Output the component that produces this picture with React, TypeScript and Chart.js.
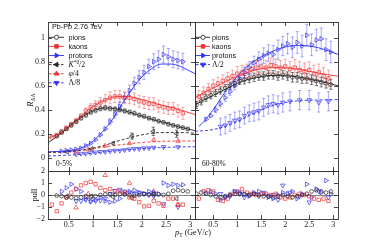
import React, { useEffect, useRef } from "react";
import { Chart, registerables } from "chart.js";
import { drawPoint } from "chart.js/helpers";

Chart.register(...registerables);

// ===================== DATA =====================
// ---- 0-5% (left panels) ----
const ptPionC = [0.25,0.35,0.45,0.55,0.65,0.75,0.85,0.95,1.05,1.15,1.25,1.35,1.45,1.55,1.65,1.75,1.85,1.95,2.05,2.15,2.25,2.35,2.45,2.55,2.65,2.75,2.85,2.95];
const raaPionC = [0.18,0.21,0.24,0.27,0.3,0.33,0.355,0.38,0.395,0.41,0.415,0.41,0.405,0.4,0.39,0.38,0.37,0.355,0.345,0.33,0.32,0.305,0.295,0.28,0.27,0.26,0.25,0.24];
const sysPionC = [0.015,0.016,0.018,0.02,0.021,0.022,0.023,0.024,0.025,0.025,0.025,0.025,0.025,0.024,0.024,0.023,0.023,0.022,0.022,0.021,0.021,0.02,0.02,0.02,0.019,0.019,0.019,0.018];
const pullPionC = [-0.05,-0.1,-0.2,-0.2,-0.25,-0.2,-0.1,-0.15,-0.1,0,0.05,0.05,0,0.1,0.05,0,-0.05,0,0.1,0.05,0.1,0.05,0,0.1,0.35,0.4,0.35,0.3];

const ptKaonC = [0.15,0.25,0.35,0.45,0.55,0.65,0.75,0.85,0.95,1.05,1.15,1.25,1.35,1.45,1.55,1.65,1.75,1.85,1.95,2.05,2.15,2.25,2.35,2.45,2.55,2.65,2.75,2.85];
const raaKaonC = [0.17,0.19,0.22,0.25,0.28,0.31,0.35,0.39,0.42,0.44,0.46,0.48,0.5,0.51,0.51,0.5,0.5,0.49,0.47,0.46,0.45,0.45,0.43,0.42,0.41,0.41,0.39,0.37];
const errKaonC = [0.01,0.01,0.012,0.014,0.016,0.018,0.02,0.025,0.03,0.035,0.04,0.045,0.05,0.05,0.05,0.05,0.05,0.05,0.05,0.05,0.05,0.05,0.05,0.05,0.05,0.05,0.05,0.05];
const pullKaonC = [-0.8,-1.35,-0.7,-0.2,0.2,0.5,0.8,1.0,1.1,0.9,0.6,0.4,0.5,0.3,0.3,0.2,-0.2,-0.3,-0.6,-0.95,-0.9,-0.5,-0.7,-0.9,-0.3,-0.3,-0.8,-0.8];

const ptProtonC = [0.35,0.45,0.55,0.65,0.75,0.85,0.95,1.05,1.15,1.25,1.35,1.45,1.55,1.65,1.75,1.85,1.95,2.05,2.15,2.25,2.35,2.45,2.55,2.65,2.75,2.85];
const raaProtonC = [0.055,0.06,0.065,0.07,0.08,0.1,0.12,0.15,0.19,0.24,0.3,0.36,0.43,0.5,0.56,0.62,0.67,0.71,0.76,0.8,0.82,0.86,0.84,0.82,0.81,0.8];
const errProtonC = [0.005,0.005,0.005,0.006,0.007,0.008,0.01,0.012,0.015,0.02,0.025,0.03,0.035,0.04,0.045,0.05,0.055,0.06,0.06,0.065,0.07,0.07,0.07,0.07,0.07,0.07];
const pullProtonC = [0.3,0.6,0.9,0.5,0.3,-0.3,-0.5,-0.4,-0.2,-0.5,-0.6,-0.5,-0.3,0.1,0.3,0.4,0.2,0.1,0.3,0.2,0.1,1.0,0.8,0.9,0.8,0.85];

const ptKstarC = [0.46,0.97,1.41,1.8,2.24,2.72];
const raaKstarC = [0.05,0.075,0.12,0.18,0.22,0.2];
const errKstarC = [0.006,0.01,0.015,0.025,0.035,0.03];
const pullKstarC = [-0.1,-0.1,-0.15,-0.25,0.05,-0.3];

const ptPhiC = [0.65,0.9,1.25,1.75,2.25,2.75];
const raaPhiC = [0.05,0.07,0.1,0.12,0.15,0.14];
const errPhiC = [0.005,0.007,0.01,0.012,0.015,0.015];
const pullPhiC = [-1.05,0.1,1.65,1.0,0.3,-0.85];

const ptLambdaC = [0.65,0.75,0.85,0.95,1.05,1.15,1.25,1.35,1.45,1.55,1.65,1.75,1.85,1.95,2.05,2.15,2.25,2.45,2.75];
const raaLambdaC = [0.03,0.035,0.035,0.04,0.045,0.05,0.05,0.055,0.06,0.06,0.065,0.07,0.075,0.075,0.08,0.08,0.085,0.09,0.09];
const errLambdaC = [0.004,0.004,0.004,0.004,0.005,0.005,0.005,0.005,0.005,0.005,0.006,0.006,0.006,0.006,0.006,0.007,0.007,0.008,0.008];
const pullLambdaC = [-0.5,-0.5,-0.4,-0.55,-0.5,-0.45,-0.3,0.1,0.35,0.45,0.3,0.2,0.1,0.2,0.1,0.0,-0.1,-0.75,-1.0];

// fits (0-5%)
const fitPtC = [0.07,0.3,0.5,0.7,0.9,1.1,1.3,1.5,1.7,1.9,2.1,2.3,2.5,2.7,2.9,3.1];
const fitPionC = [0.125,0.19,0.255,0.32,0.37,0.405,0.415,0.405,0.385,0.36,0.335,0.31,0.29,0.265,0.245,0.225];
const fitKaonC = [0.165,0.2,0.26,0.33,0.4,0.45,0.49,0.51,0.51,0.495,0.475,0.45,0.43,0.41,0.385,0.36];
const fitPtProtonC = [0.07,0.4,0.6,0.8,1.0,1.2,1.4,1.6,1.8,2.0,2.2,2.4,2.6,2.8,3.0,3.1];
const fitProtonC = [0.05,0.055,0.065,0.09,0.14,0.22,0.32,0.45,0.57,0.67,0.74,0.78,0.78,0.76,0.72,0.7];
const fitPtKstarC = [0.07,0.4,0.8,1.2,1.6,2.0,2.4,2.8,3.1];
const fitKstarC = [0.045,0.05,0.065,0.1,0.15,0.19,0.21,0.21,0.205];
const fitPtPhiC = [0.07,0.5,0.9,1.3,1.7,2.1,2.5,3.1];
const fitPhiC = [0.045,0.05,0.07,0.095,0.115,0.13,0.138,0.14];
const fitPtLambdaC = [0.07,0.4,0.8,1.2,1.6,2.0,2.4,2.8,3.1];
const fitLambdaC = [0.015,0.02,0.03,0.048,0.063,0.076,0.085,0.09,0.092];

// ---- 60-80% (right panels) ----
const ptPionP = [0.15,0.25,0.35,0.45,0.55,0.65,0.75,0.85,0.95,1.05,1.15,1.25,1.35,1.45,1.55,1.65,1.75,1.85,1.95,2.05,2.15,2.25,2.35,2.45,2.55,2.65,2.75,2.85,2.95];
const raaPionP = [0.44,0.47,0.5,0.52,0.54,0.56,0.58,0.6,0.62,0.64,0.65,0.66,0.67,0.68,0.68,0.69,0.69,0.68,0.69,0.68,0.67,0.67,0.66,0.66,0.65,0.64,0.63,0.62,0.61];
const errPionP = [0.03,0.03,0.03,0.03,0.03,0.03,0.03,0.03,0.03,0.03,0.035,0.035,0.035,0.035,0.035,0.035,0.035,0.035,0.035,0.035,0.04,0.04,0.04,0.04,0.04,0.04,0.04,0.04,0.04];
const pullPionP = [0.1,0.2,0.1,0.0,-0.1,-0.2,-0.1,0.0,0.1,0.1,0.05,0.0,0.1,0.0,-0.1,-0.1,-0.2,-0.1,0.0,-0.1,-0.2,-0.1,0.0,0.1,0.3,0.4,0.3,0.2,0.3];

const ptKaonP = [0.2,0.3,0.4,0.5,0.6,0.7,0.8,0.9,1.0,1.1,1.2,1.3,1.4,1.5,1.6,1.7,1.8,1.9,2.0,2.1,2.2,2.3,2.4,2.5,2.6,2.7,2.8,2.9];
const raaKaonP = [0.51,0.54,0.57,0.6,0.62,0.64,0.66,0.68,0.7,0.71,0.72,0.74,0.75,0.76,0.75,0.77,0.76,0.75,0.76,0.74,0.75,0.73,0.72,0.73,0.7,0.71,0.68,0.66];
const errKaonP = [0.05,0.05,0.05,0.05,0.05,0.05,0.05,0.05,0.06,0.06,0.06,0.06,0.06,0.06,0.06,0.06,0.06,0.06,0.06,0.06,0.07,0.07,0.07,0.07,0.07,0.07,0.07,0.07];
const pullKaonP = [-0.3,0.3,0.4,0.3,-0.4,-0.5,-0.3,0.1,0.3,0.5,0.2,0.1,0.0,0.1,0.1,0.0,0.1,-0.2,-0.3,-0.2,0.0,0.1,0.0,-0.1,-0.3,-0.4,-0.3,-0.5];

const ptProtonP = [0.35,0.45,0.55,0.65,0.75,0.85,0.95,1.05,1.15,1.25,1.35,1.45,1.55,1.65,1.75,1.85,1.95,2.05,2.15,2.25,2.35,2.45,2.55,2.65,2.75,2.85,2.95];
const raaProtonP = [0.32,0.35,0.4,0.45,0.5,0.55,0.6,0.66,0.71,0.75,0.79,0.82,0.85,0.87,0.86,0.9,0.93,0.95,0.92,0.96,0.93,1.02,0.94,0.98,0.99,0.9,0.88];
const errProtonP = [0.02,0.02,0.025,0.025,0.03,0.03,0.035,0.04,0.045,0.05,0.055,0.06,0.065,0.07,0.075,0.08,0.08,0.085,0.085,0.09,0.09,0.09,0.09,0.09,0.09,0.09,0.09];
const pullProtonP = [0.2,0.3,0.1,-0.4,-0.2,0.0,0.3,0.2,0.1,-0.1,0.2,0.3,0.1,-0.2,-0.3,0.0,0.2,0.1,0.3,-0.3,0.1,0.9,-0.2,0.5,0.2,1.2,0.1];

const ptLambdaP = [0.65,0.75,0.85,0.95,1.05,1.15,1.25,1.35,1.45,1.55,1.65,1.75,1.85,1.95,2.1,2.3,2.5,2.7,2.9];
const raaLambdaP = [0.26,0.27,0.29,0.31,0.32,0.35,0.37,0.38,0.39,0.42,0.44,0.45,0.44,0.46,0.47,0.48,0.48,0.46,0.47];
const errLambdaP = [0.07,0.07,0.07,0.07,0.07,0.07,0.07,0.075,0.075,0.075,0.075,0.075,0.075,0.08,0.08,0.08,0.08,0.08,0.08];
const pullLambdaP = [0.1,-0.2,-0.1,0.3,0.1,-0.2,0.0,0.1,-0.1,0.2,-0.1,0.0,-0.4,0.8,0.2,-0.1,-0.6,0.3,-0.2];

// fits (60-80%)
const fitPtP = [0.12,0.3,0.5,0.7,0.9,1.1,1.3,1.5,1.7,1.9,2.1,2.3,2.5,2.7,2.9,3.1];
const fitPionP = [0.44,0.48,0.52,0.56,0.6,0.635,0.66,0.675,0.685,0.685,0.68,0.67,0.655,0.64,0.62,0.6];
const fitKaonP = [0.5,0.54,0.58,0.62,0.66,0.69,0.72,0.74,0.75,0.75,0.745,0.735,0.72,0.705,0.69,0.68];
const fitPtProtonP = [0.2,0.3,0.5,0.7,0.9,1.1,1.3,1.5,1.7,1.9,2.1,2.3,2.5,2.7,2.9,3.1];
const fitProtonP = [0.26,0.3,0.4,0.52,0.63,0.72,0.79,0.84,0.88,0.91,0.93,0.935,0.93,0.915,0.89,0.86];
const fitPtLambdaP = [0.12,0.5,0.8,1.1,1.4,1.7,2.0,2.3,2.6,3.1];
const fitLambdaP = [0.22,0.235,0.27,0.32,0.38,0.43,0.46,0.475,0.48,0.485];

// axis ranges / ticks
const xRangeC = [0.07, 3.1];
const xRangeP = [0.12, 3.1];
const raaRange = [-0.11, 1.13];
const pullRange = [-2, 2];
const xStep = 0.5, raaStep = 0.2, pullStep = 1;

// texts
const systemLabel = "Pb-Pb 2.76 TeV";
const centralityC = "0-5%";
const centralityP = "60-80%";
const speciesNames = ["pions", "kaons", "protons"];

// ===================== STYLE / LAYOUT =====================
const W = 385, H = 247;
const AREA_TL = { left: 48, right: 195, top: 22, bottom: 171 };
const AREA_TR = { left: 195, right: 338, top: 22, bottom: 171 };
const AREA_BL = { left: 48, right: 195, top: 171, bottom: 219 };
const AREA_BR = { left: 195, right: 338, top: 171, bottom: 219 };
const Y_AXIS_W = 20, X_AXIS_H = 13;

const BLACK = "#222222", RED = "#f23030", BLUE = "#3030f2";
const BLACK_ERR = "rgba(34,34,34,0.75)", RED_ERR = "rgba(242,48,48,0.5)", BLUE_ERR = "rgba(48,48,242,0.5)";
const SYS_GRAY = "rgba(120,120,120,0.4)";
const SANS = '"Liberation Sans", Arial, sans-serif';
const SERIF = '"Liberation Serif", "Times New Roman", serif';
const TICK_FONT = { family: SERIF, size: 8 };

const xy = (xs: number[], ys: number[]) => xs.map((x, i) => ({ x, y: ys[i] }));

function markers(label: string, xs: number[], ys: number[], color: string, style: string, rot: number, err?: number[], errColor?: string, extra: any = {}) {
  const r = style === "circle" ? 1.9 : style === "rect" ? 2.4 : 2.6;
  return {
    label, data: xy(xs, ys), showLine: false,
    borderColor: color, backgroundColor: "rgba(0,0,0,0)",
    pointStyle: style, pointRotation: rot, pointRadius: r, pointBorderWidth: 0.7, pointHoverRadius: r,
    errY: err, errColor, ...extra,
  };
}
function fitLine(label: string, xs: number[], ys: number[], color: string, dash: number[]) {
  return {
    label, data: xy(xs, ys), showLine: true, borderColor: color, borderWidth: 0.9, borderDash: dash,
    pointRadius: 0, cubicInterpolationMode: "monotone", fill: false,
  };
}
const fmt = (v: any) => {
  const n = Math.round(Number(v) * 10) / 10;
  return n < 0 ? "\u2212" + String(-n) : String(n);
};

// ===================== PLUGINS =====================
const errorBars = {
  id: "errorBars",
  beforeDatasetsDraw(chart: any) {
    const { ctx, chartArea: a, scales } = chart;
    const xs = scales.x, ys = scales.y;
    ctx.save();
    ctx.beginPath();
    ctx.rect(a.left, a.top, a.right - a.left, a.bottom - a.top);
    ctx.clip();
    chart.data.datasets.forEach((ds: any) => {
      if (!ds.errY && !ds.sysY) return;
      ds.data.forEach((p: any, j: number) => {
        const px = xs.getPixelForValue(p.x);
        if (ds.sysY) {
          const h = ds.sysY[j];
          const x0 = xs.getPixelForValue(p.x - ds.sysW), x1 = xs.getPixelForValue(p.x + ds.sysW);
          const y0 = ys.getPixelForValue(p.y + h), y1 = ys.getPixelForValue(p.y - h);
          ctx.fillStyle = SYS_GRAY;
          ctx.fillRect(x0, y0, x1 - x0, y1 - y0);
        }
        if (ds.errY) {
          const e = ds.errY[j];
          const y0 = ys.getPixelForValue(p.y - e), y1 = ys.getPixelForValue(p.y + e);
          ctx.strokeStyle = ds.errColor;
          ctx.lineWidth = 0.8;
          ctx.beginPath();
          ctx.moveTo(px, y0); ctx.lineTo(px, y1);
          if (Math.abs(y0 - y1) > 5) {
            ctx.moveTo(px - 1.6, y0); ctx.lineTo(px + 1.6, y0);
            ctx.moveTo(px - 1.6, y1); ctx.lineTo(px + 1.6, y1);
          }
          ctx.stroke();
        }
      });
    });
    ctx.restore();
  },
};

const frame = {
  id: "frame",
  beforeDatasetsDraw(chart: any, _a: any, opts: any) {
    if (!opts || !opts.zero) return;
    const { ctx, chartArea: a, scales } = chart;
    const y0 = Math.round(scales.y.getPixelForValue(0)) + 0.5;
    ctx.save();
    ctx.strokeStyle = "#666";
    ctx.lineWidth = 0.8;
    ctx.beginPath(); ctx.moveTo(a.left, y0); ctx.lineTo(a.right, y0); ctx.stroke();
    ctx.restore();
  },
  afterDatasetsDraw(chart: any) {
    const { ctx, chartArea: a, scales } = chart;
    ctx.save();
    ctx.strokeStyle = "#333";
    ctx.lineWidth = 0.9;
    ctx.strokeRect(a.left + 0.5, a.top + 0.5, a.right - a.left, a.bottom - a.top);
    const L = 4;
    ctx.beginPath();
    scales.x.ticks.forEach((t: any) => {
      const px = Math.round(scales.x.getPixelForValue(t.value)) + 0.5;
      ctx.moveTo(px, a.top); ctx.lineTo(px, a.top + L);
      ctx.moveTo(px, a.bottom); ctx.lineTo(px, a.bottom - L);
    });
    scales.y.ticks.forEach((t: any) => {
      const py = Math.round(scales.y.getPixelForValue(t.value)) + 0.5;
      ctx.moveTo(a.left, py); ctx.lineTo(a.left + L, py);
      ctx.moveTo(a.right, py); ctx.lineTo(a.right - L, py);
    });
    ctx.stroke();
    ctx.restore();
  },
};

type Part = { t: string; font: string; dy?: number };
function drawParts(ctx: CanvasRenderingContext2D, parts: Part[], x: number, y: number, center = false) {
  let w = 0;
  parts.forEach((p) => { ctx.font = p.font; w += ctx.measureText(p.t).width; });
  let cx = center ? x - w / 2 : x;
  parts.forEach((p) => {
    ctx.font = p.font;
    ctx.fillText(p.t, cx, y + (p.dy || 0));
    cx += ctx.measureText(p.t).width;
  });
}

const LEG = `7.2px ${SANS}`;
const MATH_I = `italic 7.8px ${SERIF}`;
const MATH = `7.8px ${SERIF}`;
const MATH_S = `5.4px ${SERIF}`;

type LegendEntry = { parts: Part[]; color: string; style: string; rot: number; dash: number[]; filled: boolean };
const legendC: LegendEntry[] = [
  { parts: [{ t: speciesNames[0], font: LEG }], color: BLACK, style: "circle", rot: 0, dash: [], filled: false },
  { parts: [{ t: speciesNames[1], font: LEG }], color: RED, style: "rect", rot: 0, dash: [], filled: true },
  { parts: [{ t: speciesNames[2], font: LEG }], color: BLUE, style: "triangle", rot: 90, dash: [], filled: true },
  { parts: [{ t: "K", font: MATH_I }, { t: "*0", font: MATH_S, dy: -3 }, { t: "/2", font: MATH }], color: BLACK, style: "triangle", rot: -90, dash: [2.5, 1.5], filled: true },
  { parts: [{ t: "\u03c6", font: MATH_I }, { t: "/4", font: MATH }], color: RED, style: "triangle", rot: 0, dash: [2.5, 1.5], filled: true },
  { parts: [{ t: "\u039b/8", font: MATH }], color: BLUE, style: "triangle", rot: 180, dash: [2.5, 1.5], filled: true },
];
const legendP: LegendEntry[] = [
  legendC[0], legendC[1], legendC[2],
  { parts: [{ t: "\u039b/2", font: MATH }], color: BLUE, style: "triangle", rot: 180, dash: [2.5, 1.5], filled: true },
];

function drawLegend(ctx: CanvasRenderingContext2D, entries: LegendEntry[], x0: number, x1: number, tx: number, y0: number, dy: number) {
  entries.forEach((e, i) => {
    const y = y0 + i * dy;
    ctx.save();
    ctx.strokeStyle = e.color;
    ctx.lineWidth = 0.9;
    ctx.setLineDash(e.dash);
    ctx.beginPath(); ctx.moveTo(x0, y); ctx.lineTo(x1, y); ctx.stroke();
    ctx.setLineDash([]);
    ctx.fillStyle = e.filled ? e.color : "#fff";
    ctx.lineWidth = 0.8;
    const r = e.style === "circle" ? 2.1 : e.style === "rect" ? 2.6 : 2.8;
    drawPoint(ctx, { pointStyle: e.style as any, rotation: e.rot, radius: r, borderWidth: 0.8 } as any, (x0 + x1) / 2, y);
    ctx.fillStyle = "#111";
    ctx.textBaseline = "alphabetic";
    drawParts(ctx, e.parts, tx, y + 2.6);
    ctx.restore();
  });
}

const annotLeft = {
  id: "annotLeft",
  afterDraw(chart: any) {
    const ctx: CanvasRenderingContext2D = chart.ctx;
    ctx.save();
    ctx.fillStyle = "#111";
    ctx.textBaseline = "alphabetic";
    ctx.font = LEG;
    ctx.fillText(systemLabel, 52, 29.3);
    drawLegend(ctx, legendC, 49, 64, 68.5, 37.3, 9.1);
    ctx.font = `7.5px ${SERIF}`;
    ctx.fillText(centralityC, 56, 166);
    // y titles
    ctx.save();
    ctx.translate(33, 100);
    ctx.rotate(-Math.PI / 2);
    drawParts(ctx, [{ t: "R", font: `italic 8.5px ${SERIF}` }, { t: "AA", font: `5.6px ${SERIF}`, dy: 1.8 }], 0, 0, true);
    ctx.restore();
    ctx.save();
    ctx.translate(36.5, 195);
    ctx.rotate(-Math.PI / 2);
    drawParts(ctx, [{ t: "pull", font: `8px ${SERIF}` }], 0, 0, true);
    ctx.restore();
    // x title
    drawParts(ctx, [
      { t: "p", font: `italic 8.5px ${SERIF}` },
      { t: "T", font: `5.6px ${SERIF}`, dy: 1.8 },
      { t: " (GeV/", font: `8px ${SERIF}` },
      { t: "c", font: `italic 8px ${SERIF}` },
      { t: ")", font: `8px ${SERIF}` },
    ], 175, 235);
    ctx.restore();
  },
};

const annotRight = {
  id: "annotRight",
  afterDraw(chart: any) {
    const ctx: CanvasRenderingContext2D = chart.ctx;
    ctx.save();
    drawLegend(ctx, legendP, 196, 210, 212, 37.3, 9.1);
    ctx.fillStyle = "#111";
    ctx.font = `7.5px ${SERIF}`;
    ctx.textBaseline = "alphabetic";
    ctx.fillText(centralityP, 202, 166);
    ctx.restore();
  },
};

// ===================== CHART CONFIGS =====================
type PanelOpts = {
  area: { left: number; right: number; top: number; bottom: number };
  xRange: number[]; yRange: number[]; yStep: number;
  xLabels: boolean; yLabels: boolean; zero: boolean;
  datasets: any[]; plugins: any[];
};
function panelConfig(p: PanelOpts): any {
  const xH = p.xLabels ? X_AXIS_H : 0;
  const yW = p.yLabels ? Y_AXIS_W : 0;
  return {
    type: "scatter",
    data: { datasets: p.datasets },
    options: {
      responsive: false,
      animation: false,
      events: [],
      layout: { padding: { left: p.area.left - yW, right: W - p.area.right, top: p.area.top, bottom: H - p.area.bottom - xH } },
      plugins: { legend: { display: false }, tooltip: { enabled: false }, frame: { zero: p.zero } },
      scales: {
        x: {
          type: "linear", min: p.xRange[0], max: p.xRange[1],
          grid: { display: false, drawTicks: false }, border: { display: false },
          ticks: { display: p.xLabels, stepSize: xStep, includeBounds: false, padding: 1, font: TICK_FONT, color: "#222", maxRotation: 0, autoSkip: false, callback: fmt },
          afterFit: (s: any) => { s.height = xH; },
        },
        y: {
          type: "linear", min: p.yRange[0], max: p.yRange[1],
          grid: { display: false, drawTicks: false }, border: { display: false },
          ticks: { display: p.yLabels, stepSize: p.yStep, includeBounds: false, padding: 3, font: TICK_FONT, color: "#222", autoSkip: false, callback: fmt },
          afterFit: (s: any) => { s.width = yW; },
        },
      },
    },
    plugins: [errorBars, frame, ...p.plugins],
  };
}

function configTL() {
  return panelConfig({
    area: AREA_TL, xRange: xRangeC, yRange: raaRange, yStep: raaStep, xLabels: false, yLabels: true, zero: false,
    plugins: [annotLeft],
    datasets: [
      markers("pions", ptPionC, raaPionC, BLACK, "circle", 0, undefined, undefined, { sysY: sysPionC, sysW: 0.04 }),
      markers("kaons", ptKaonC, raaKaonC, RED, "rect", 0, errKaonC, RED_ERR),
      markers("protons", ptProtonC, raaProtonC, BLUE, "triangle", 90, errProtonC, BLUE_ERR),
      markers("K*0/2", ptKstarC, raaKstarC, BLACK, "triangle", -90, errKstarC, BLACK_ERR),
      markers("phi/4", ptPhiC, raaPhiC, RED, "triangle", 0, errPhiC, RED_ERR),
      markers("Lambda/8", ptLambdaC, raaLambdaC, BLUE, "triangle", 180, errLambdaC, BLUE_ERR),
      fitLine("pions fit", fitPtC, fitPionC, BLACK, []),
      fitLine("kaons fit", fitPtC, fitKaonC, RED, []),
      fitLine("protons fit", fitPtProtonC, fitProtonC, BLUE, []),
      fitLine("K*0 fit", fitPtKstarC, fitKstarC, BLACK, [3, 2]),
      fitLine("phi fit", fitPtPhiC, fitPhiC, RED, [3, 2]),
      fitLine("Lambda fit", fitPtLambdaC, fitLambdaC, BLUE, [3, 2]),
    ],
  });
}
function configTR() {
  return panelConfig({
    area: AREA_TR, xRange: xRangeP, yRange: raaRange, yStep: raaStep, xLabels: false, yLabels: false, zero: false,
    plugins: [annotRight],
    datasets: [
      markers("pions", ptPionP, raaPionP, BLACK, "circle", 0, errPionP, BLACK_ERR),
      markers("kaons", ptKaonP, raaKaonP, RED, "rect", 0, errKaonP, RED_ERR),
      markers("protons", ptProtonP, raaProtonP, BLUE, "triangle", 90, errProtonP, BLUE_ERR),
      markers("Lambda/2", ptLambdaP, raaLambdaP, BLUE, "triangle", 180, errLambdaP, BLUE_ERR),
      fitLine("pions fit", fitPtP, fitPionP, BLACK, []),
      fitLine("kaons fit", fitPtP, fitKaonP, RED, []),
      fitLine("protons fit", fitPtProtonP, fitProtonP, BLUE, []),
      fitLine("Lambda fit", fitPtLambdaP, fitLambdaP, BLUE, [3, 2]),
    ],
  });
}
function configBL() {
  return panelConfig({
    area: AREA_BL, xRange: xRangeC, yRange: pullRange, yStep: pullStep, xLabels: true, yLabels: true, zero: true,
    plugins: [],
    datasets: [
      markers("pions", ptPionC, pullPionC, BLACK, "circle", 0),
      markers("kaons", ptKaonC, pullKaonC, RED, "rect", 0),
      markers("protons", ptProtonC, pullProtonC, BLUE, "triangle", 90),
      markers("K*0/2", ptKstarC, pullKstarC, BLACK, "triangle", -90),
      markers("phi/4", ptPhiC, pullPhiC, RED, "triangle", 0),
      markers("Lambda/8", ptLambdaC, pullLambdaC, BLUE, "triangle", 180),
    ],
  });
}
function configBR() {
  return panelConfig({
    area: AREA_BR, xRange: xRangeP, yRange: pullRange, yStep: pullStep, xLabels: true, yLabels: false, zero: true,
    plugins: [],
    datasets: [
      markers("pions", ptPionP, pullPionP, BLACK, "circle", 0),
      markers("kaons", ptKaonP, pullKaonP, RED, "rect", 0),
      markers("protons", ptProtonP, pullProtonP, BLUE, "triangle", 90),
      markers("Lambda/2", ptLambdaP, pullLambdaP, BLUE, "triangle", 180),
    ],
  });
}

export default function App() {
  const r1 = useRef<HTMLCanvasElement>(null);
  const r2 = useRef<HTMLCanvasElement>(null);
  const r3 = useRef<HTMLCanvasElement>(null);
  const r4 = useRef<HTMLCanvasElement>(null);
  useEffect(() => {
    const pairs: [React.RefObject<HTMLCanvasElement>, () => any][] = [
      [r1, configTL], [r2, configTR], [r3, configBL], [r4, configBR],
    ];
    const charts = pairs.map(([r, cfg]) => new Chart(r.current as HTMLCanvasElement, cfg()));
    return () => charts.forEach((c) => c.destroy());
  }, []);
  const cs: React.CSSProperties = { position: "absolute", left: 0, top: 0, width: W, height: H };
  return (
    <div style={{ position: "absolute", left: 0, top: 0, width: W, height: H, background: "#fff" }}>
      <canvas ref={r1} width={W} height={H} style={cs} />
      <canvas ref={r2} width={W} height={H} style={cs} />
      <canvas ref={r3} width={W} height={H} style={cs} />
      <canvas ref={r4} width={W} height={H} style={cs} />
    </div>
  );
}
